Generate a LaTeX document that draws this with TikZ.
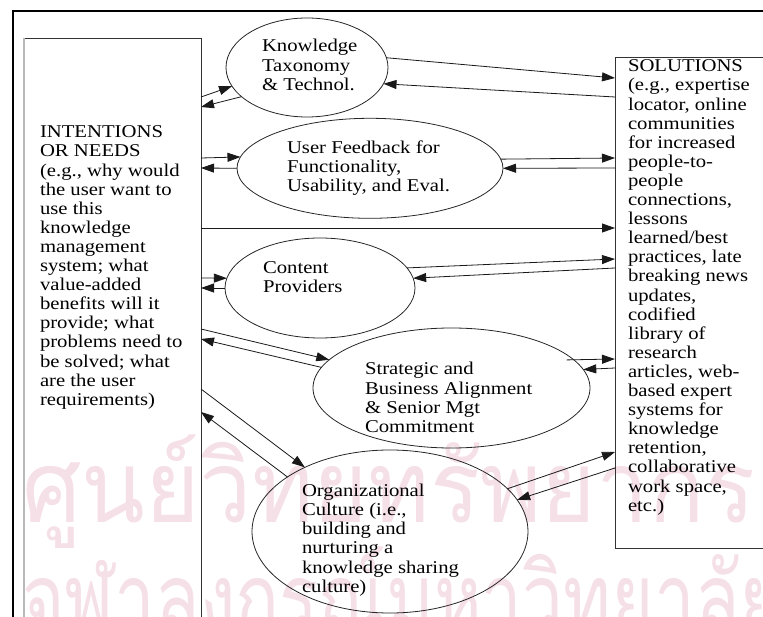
\documentclass[tikz,border=0pt]{standalone}
\usepackage{fontspec}
\usepackage{graphicx}
\setmainfont{Liberation Serif}[FakeStretch=1.15]
\newfontfamily\thaifont[Script=Thai]{Loma}
\usetikzlibrary{shapes.geometric,arrows.meta}
\definecolor{wmpink}{RGB}{246,224,232}
\begin{document}
\begin{tikzpicture}[x=1pt,y=-1pt,
  txt/.style={anchor=north west,inner sep=0pt,outer sep=0pt,align=left,font=\fontsize{18}{19.1}\selectfont},
  oval/.style={ellipse,draw=black!85,line width=0.8pt,inner sep=0pt,outer sep=0pt},
  conn/.style={draw=black!90,line width=0.8pt,-{Triangle[length=13pt,width=9pt]}},
  wm/.style={anchor=base west,inner sep=0pt,text=wmpink,font=\thaifont\fontsize{100}{110}\selectfont}]
\useasboundingbox (0,0) rectangle (763,617);
\clip (0,0) rectangle (763,617);
% watermark
\node[wm] (wm1) at (22,522) {\resizebox{733pt}{\height}{ศูนย์วิทยทรัพยากร}};
\node[wm] (wm2) at (22,634) {\resizebox{760pt}{\height}{จุฬาลงกรณ์มหาวิทยาลัย}};
% outer frame
\draw[line width=2.2pt] (763,11) -- (13,11) -- (13,625);
% boxes
\node[draw=black!80,line width=0.8pt,inner sep=0pt,outer sep=0pt,minimum width=177pt,minimum height=600pt,anchor=north west] (L) at (24,38) {};
\draw[gray!55,line width=1.8pt] (L.north west) -- (L.south west);
\node[draw=black!80,line width=0.8pt,inner sep=0pt,outer sep=0pt,minimum width=170pt,minimum height=491pt,anchor=north west] (R) at (615,57.5) {};
% ellipses
\node[oval,minimum width=162pt,minimum height=99pt] (e1) at (307,67.5) {};
\node[oval,minimum width=266pt,minimum height=100pt] (e2) at (370,168.3) {};
\node[oval,minimum width=190pt,minimum height=100pt] (e3) at (320,288) {};
\node[oval,minimum width=277pt,minimum height=120pt] (e4) at (451.5,388) {};
\node[oval,minimum width=276pt,minimum height=163pt] (e5) at (390,531.5) {};
% texts
\node[txt] (tL) at (40,124.5) {\strut INTENTIONS\\OR NEEDS\\(e.g., why would\\the user want to\\use this\\knowledge\\management\\system; what\\value-added\\benefits will it\\provide; what\\problems need to\\be solved; what\\are the user\\requirements)};
\node[txt] (tR) at (628,58.5) {\strut SOLUTIONS\\(e.g., expertise\\locator, online\\communities\\for increased\\people-to-\\people\\connections,\\lessons\\learned/best\\practices, late\\breaking news\\updates,\\codified\\library of\\research\\articles, web-\\based expert\\systems for\\knowledge\\retention,\\collaborative\\work space,\\etc.)};
\node[txt] (t1) at (262,38.6) {\strut Knowledge\\Taxonomy\\\&\ Technol.};
\node[txt] (t2) at (287,139.9) {\strut User Feedback for\\Functionality,\\Usability, and Eval.};
\node[txt] (t3) at (263,259.9) {\strut Content\\Providers};
\node[txt] (t4) at (365,361.6) {\strut Strategic and\\Business Alignment\\\&\ Senior Mgt\\Commitment};
\node[txt] (t5) at (302,483.3) {\strut Organizational\\Culture (i.e.,\\building and\\nurturing a\\knowledge sharing\\culture)};
% connectors
\draw[conn] (L.east |- 0,97) -- (e1.194);
\draw[conn] (e1.204) -- (L.east |- 0,107);
\draw[conn] (e1.7) -- (R.west |- 0,78);
\draw[conn] (R.west |- 0,97) -- (e1.348);
\draw[conn] (L.east |- 0,158) -- (e2.175.6);
\draw[conn] (e2.180) -- (L.east |- 0,168);
\draw[conn] (e2.4.4) -- (R.west |- 0,158);
\draw[conn] (R.west |- 0,168) -- (e2.0);
\draw[conn] (L.east |- 0,228) -- (R.west |- 0,228);
\draw[conn] (L.east |- 0,278) -- (e3.174);
\draw[conn] (e3.180) -- (L.east |- 0,288);
\draw[conn] (e3.13) -- (R.west |- 0,259);
\draw[conn] (R.west |- 0,268) -- (e3.6);
\draw[conn] (L.east |- 0,329) -- (e4.167.7);
\draw[conn] (e4.171.5) -- (L.east |- 0,339);
\draw[conn,shorten <=-7pt] (e4.13.5) -- (R.west |- 0,359);
\draw[conn] (R.west |- 0,368) -- (e4.8.9);
\draw[conn] (L.east |- 0,389) -- (e5.143.8);
\draw[conn] (e5.152.1) -- (L.east |- 0,412);
\draw[conn] (e5.20.7) -- (R.west |- 0,452);
\draw[conn] (R.west |- 0,468) -- (e5.14.4);
\end{tikzpicture}
\end{document}
